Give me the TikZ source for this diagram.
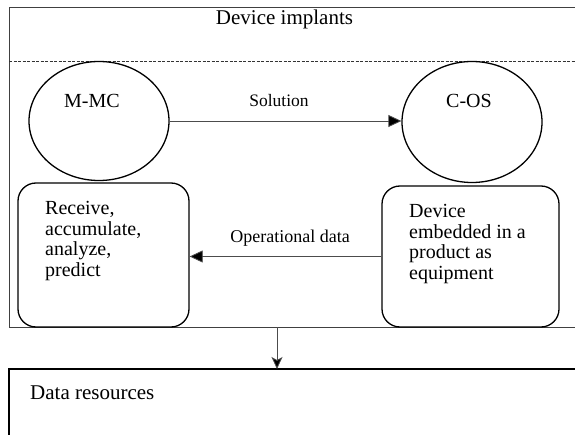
\documentclass[tikz,border=0pt]{standalone}
\usepackage{fontspec}
\setmainfont{Liberation Serif}
\usetikzlibrary{shapes.geometric,arrows.meta}
\begin{document}
\begin{tikzpicture}[x=1pt,y=-1pt,
  frame/.style={draw=black!75,line width=0.9pt},
  bubble/.style={ellipse,draw,line width=1.3pt,inner sep=0pt,minimum width=140pt,minimum height=119pt},
  rbox/.style={draw,line width=1.3pt,rounded corners=18pt,inner sep=0pt},
  txt/.style={inner sep=0pt,font=\fontsize{20}{20.7}\selectfont},
  btxt/.style={inner sep=0pt,align=left,anchor=north west,font=\fontsize{20}{20.7}\selectfont},
  lbl/.style={inner sep=0pt,anchor=base,font=\fontsize{18}{20}\selectfont},
  flow/.style={draw=black!70,line width=0.8pt,-{Triangle[length=13pt,width=12pt,fill=black]}},
  down/.style={draw=black!70,line width=0.8pt,-{Stealth[length=12pt,width=11pt,inset=3pt,fill=black]}}
]
\useasboundingbox (0,0) rectangle (575,435);
\clip (0,0) rectangle (575,435);
% outer frame
\draw[frame] (9,7.5) -- (576,7.5);
\draw[frame] (9,7.5) -- (9,327) -- (576,327);
\coordinate (fb) at (277,327);
\draw[black!80,line width=0.7pt,dash pattern=on 3pt off 1.5pt] (9,61) -- (576,61);
\node[txt,anchor=base] (title) at (284.5,25) {\fontsize{21}{22}\selectfont Device implants};
% ellipses
\node[bubble] (mmc) at (99,121) {};
\node[bubble,minimum height=121pt] (cos) at (472,122) {};
\node[txt,anchor=base] (mmct) at (92,108) {M-MC};
\node[txt,anchor=base] (cost) at (469,108) {C-OS};
% rounded boxes
\node[rbox,minimum width=171pt,minimum height=144pt] (rec) at (103.5,255) {};
\node[rbox,minimum width=177pt,minimum height=141pt] (dev) at (470.5,256.5) {};
\node[btxt] (rect) at (45,201) {Receive,\\accumulate,\\analyze,\\predict};
\node[btxt] (devt) at (409,204) {Device\\embedded in a\\product as\\equipment};
% arrows
\draw[flow] (mmc.east) -- (mmc.east -| cos.west);
\node[lbl] (sol) at (279,107) {\fontsize{17.5}{20}\selectfont Solution};
\draw[flow] (dev.west) -- (dev.west -| rec.east);
\node[lbl] (opd) at (290,243) {Operational data};
% data resources
\draw[black,line width=1.2pt] (9,445) -- (9,369) -- (576,369);
\coordinate (db) at (277,369);
\draw[down] (fb) -- (db);
\node[txt,anchor=base west] (data) at (30,399) {\fontsize{21}{22}\selectfont Data resources};
\end{tikzpicture}
\end{document}
